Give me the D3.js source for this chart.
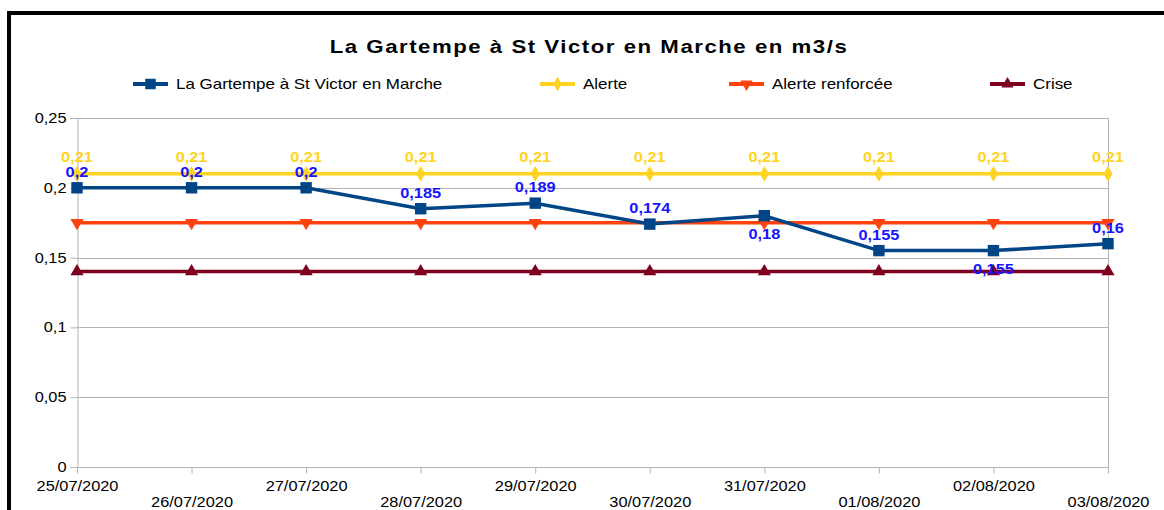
<!DOCTYPE html>
<html>
<head>
<meta charset="utf-8">
<script src="https://cdn.jsdelivr.net/npm/d3@7"></script>
<style>
  body { margin: 0; background: #fff; }
  text { font-family: "Liberation Sans", Arial, sans-serif; }
</style>
</head>
<body>
<div id="chart"></div>
<script>
// dates on the category axis
var dates = ["25/07/2020", "26/07/2020", "27/07/2020", "28/07/2020", "29/07/2020",
             "30/07/2020", "31/07/2020", "01/08/2020", "02/08/2020", "03/08/2020"];
// flow values (m3/s)
var debit = [0.2, 0.2, 0.2, 0.185, 0.189, 0.174, 0.18, 0.155, 0.155, 0.16];
var alerte = [0.21, 0.21, 0.21, 0.21, 0.21, 0.21, 0.21, 0.21, 0.21, 0.21];
var alerteRenforcee = [0.175, 0.175, 0.175, 0.175, 0.175, 0.175, 0.175, 0.175, 0.175, 0.175];
var crise = [0.14, 0.14, 0.14, 0.14, 0.14, 0.14, 0.14, 0.14, 0.14, 0.14];
var yTicks = [0, 0.05, 0.1, 0.15, 0.2, 0.25];
var debitLabelSide = ["up", "up", "up", "up", "up", "up", "down", "up", "down", "up"];

var w = 1164, h = 510;
var margin = {left: 77, right: 56, top: 118, bottom: 43};
var sx = 1.17; // text in the original is a bit wide

var svg = d3.select("#chart").append("svg")
    .attr("width", w)
    .attr("height", h);

// widen a text around its own x anchor
function stretch(sel) {
    sel.attr("transform", function () {
        var px = +d3.select(this).attr("x") || 0;
        return "translate(" + px + ",0) scale(" + sx + ",1) translate(" + (-px) + ",0)";
    });
}

// outer frame (thick black, runs off the picture on the right and bottom)
svg.append("path")
    .attr("d", "M9,520 V13 H1180")
    .attr("fill", "none")
    .attr("stroke", "#000")
    .attr("stroke-width", 4);

var x = d3.scalePoint()
    .domain(d3.range(dates.length))
    .range([margin.left, w - margin.right]);

var y = d3.scaleLinear()
    .domain([0, 0.25])
    .range([h - margin.bottom, margin.top]);

var fmt = function (v) { return String(v).replace(".", ","); };

// horizontal grid
svg.append("g")
    .selectAll("line")
    .data(yTicks)
    .join("line")
    .attr("x1", margin.left)
    .attr("x2", w - margin.right)
    .attr("y1", function (d) { return Math.round(y(d)) + 0.5; })
    .attr("y2", function (d) { return Math.round(y(d)) + 0.5; })
    .attr("stroke", "#b3b3b3")
    .attr("stroke-width", 1);

// right frame line
svg.append("line")
    .attr("x1", w - margin.right + 0.5)
    .attr("x2", w - margin.right + 0.5)
    .attr("y1", y(0.25))
    .attr("y2", y(0))
    .attr("stroke", "#b3b3b3");

// y axis
var yAxis = svg.append("g")
    .attr("transform", "translate(" + (margin.left + 0.5) + ",0)")
    .call(d3.axisLeft(y).tickValues(yTicks).tickSize(7).tickPadding(4).tickFormat(fmt));
yAxis.selectAll("path, line").attr("stroke", "#b3b3b3");
yAxis.selectAll("text").style("font-size", "14px").attr("fill", "#000")
    .style("font-family", "Liberation Sans, Arial, sans-serif")
    .attr("transform", "translate(-11,0) scale(" + sx + ",1) translate(11,0)");

// x axis
var xAxis = svg.append("g")
    .attr("transform", "translate(0," + (Math.round(y(0)) + 0.5) + ")")
    .call(d3.axisBottom(x).tickSize(6).tickPadding(3).tickFormat(function (i) { return dates[i]; }));
xAxis.select(".domain").attr("stroke", "#b3b3b3").attr("d",
    "M" + margin.left + ",0H" + (w - margin.right));
xAxis.selectAll("line").attr("stroke", "#b3b3b3");
xAxis.selectAll("text")
    .style("font-size", "14px")
    .style("font-family", "Liberation Sans, Arial, sans-serif")
    .attr("fill", "#000")
    .attr("y", function (i) { return i % 2 == 0 ? 14 : 30; })
    .attr("transform", "scale(" + sx + ",1)");

var series = [
    {name: "La Gartempe à St Victor en Marche", values: debit, color: "#004586", symbol: d3.symbolSquare, size: 130, rot: 0},
    {name: "Alerte", values: alerte, color: "#ffd320", symbol: d3.symbolDiamond, size: 70, rot: 0},
    {name: "Alerte renforcée", values: alerteRenforcee, color: "#ff420e", symbol: d3.symbolTriangle, size: 75, rot: 180},
    {name: "Crise", values: crise, color: "#7e0021", symbol: d3.symbolTriangle, size: 75, rot: 0}
];

var line = d3.line()
    .x(function (d, i) { return x(i); })
    .y(function (d) { return y(d); });

// draw back to front so the main series sits on top
var order = [3, 2, 1, 0];
order.forEach(function (k) {
    var s = series[k];
    var g = svg.append("g");
    g.append("path")
        .attr("d", line(s.values))
        .attr("fill", "none")
        .attr("stroke", s.color)
        .attr("stroke-width", 3.5);
    g.selectAll("path.pt")
        .data(s.values)
        .join("path")
        .attr("class", "pt")
        .attr("d", d3.symbol().type(s.symbol).size(s.size))
        .attr("transform", function (d, i) {
            return "translate(" + x(i) + "," + y(d) + ") rotate(" + s.rot + ")";
        })
        .attr("fill", s.color);
});

// data labels: Alerte
svg.append("g")
    .selectAll("text")
    .data(alerte)
    .join("text")
    .attr("x", function (d, i) { return x(i); })
    .attr("y", function (d) { return y(d) - 12; })
    .attr("text-anchor", "middle")
    .style("font-size", "14px")
    .style("font-weight", "bold")
    .attr("fill", "#ffd320")
    .text(fmt)
    .call(stretch);

// data labels: main series
svg.append("g")
    .selectAll("text")
    .data(debit)
    .join("text")
    .attr("x", function (d, i) { return x(i); })
    .attr("y", function (d, i) { return debitLabelSide[i] == "up" ? y(d) - 11 : y(d) + 23; })
    .attr("text-anchor", "middle")
    .style("font-size", "14px")
    .style("font-weight", "bold")
    .attr("fill", "#1515ff")
    .text(fmt)
    .call(stretch);

// title
svg.append("text")
    .attr("x", 589)
    .attr("y", 53)
    .attr("text-anchor", "middle")
    .style("font-size", "19px")
    .style("font-weight", "bold")
    .style("letter-spacing", "1.3px")
    .text("La Gartempe à St Victor en Marche en m3/s")
    .call(stretch);

// legend
var legendX = [133, 540, 729, 990];
var legend = svg.append("g");
series.forEach(function (s, k) {
    var g = legend.append("g").attr("transform", "translate(" + legendX[k] + ",84)");
    g.append("line")
        .attr("x1", 0).attr("x2", 35)
        .attr("stroke", s.color)
        .attr("stroke-width", 4);
    g.append("path")
        .attr("d", d3.symbol().type(s.symbol).size(s.size * 0.85))
        .attr("transform", "translate(17.5,0) rotate(" + s.rot + ")")
        .attr("fill", s.color);
    g.append("text")
        .attr("x", 43)
        .attr("y", 5)
        .style("font-size", "14.5px")
        .attr("fill", "#000")
        .text(s.name)
        .call(stretch);
});
</script>
</body>
</html>
